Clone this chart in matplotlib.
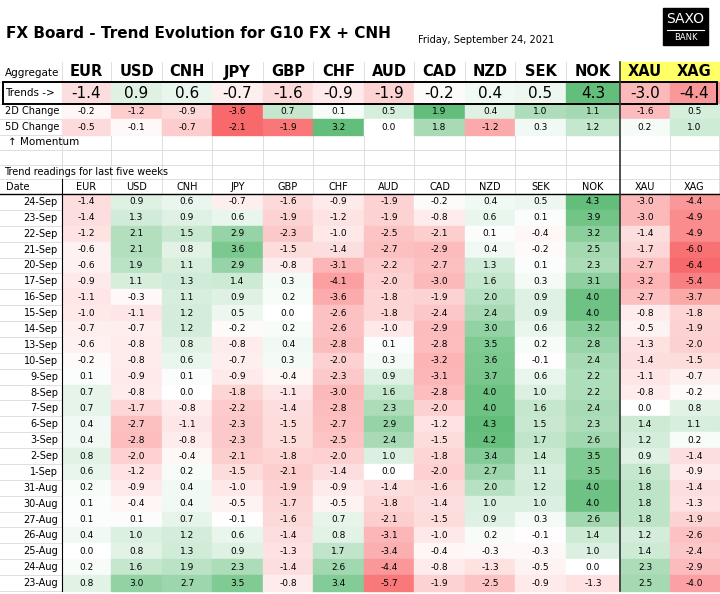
import matplotlib.pyplot as plt
from matplotlib.patches import Rectangle
import numpy as np

ccys = ['EUR', 'USD', 'CNH', 'JPY', 'GBP', 'CHF', 'AUD', 'CAD', 'NZD', 'SEK', 'NOK', 'XAU', 'XAG']
trends = [-1.4, 0.9, 0.6, -0.7, -1.6, -0.9, -1.9, -0.2, 0.4, 0.5, 4.3, -3.0, -4.4]
chg2d = [-0.2, -1.2, -0.9, -3.6, 0.7, 0.1, 0.5, 1.9, 0.4, 1.0, 1.1, -1.6, 0.5]
chg5d = [-0.5, -0.1, -0.7, -2.1, -1.9, 3.2, 0.0, 1.8, -1.2, 0.3, 1.2, 0.2, 1.0]

dates = ['24-Sep', '23-Sep', '22-Sep', '21-Sep', '20-Sep', '17-Sep', '16-Sep', '15-Sep', '14-Sep',
         '13-Sep', '10-Sep', '9-Sep', '8-Sep', '7-Sep', '6-Sep', '3-Sep', '2-Sep', '1-Sep',
         '31-Aug', '30-Aug', '27-Aug', '26-Aug', '25-Aug', '24-Aug', '23-Aug']
history = [
    [-1.4, 0.9, 0.6, -0.7, -1.6, -0.9, -1.9, -0.2, 0.4, 0.5, 4.3, -3.0, -4.4],
    [-1.4, 1.3, 0.9, 0.6, -1.9, -1.2, -1.9, -0.8, 0.6, 0.1, 3.9, -3.0, -4.9],
    [-1.2, 2.1, 1.5, 2.9, -2.3, -1.0, -2.5, -2.1, 0.1, -0.4, 3.2, -1.4, -4.9],
    [-0.6, 2.1, 0.8, 3.6, -1.5, -1.4, -2.7, -2.9, 0.4, -0.2, 2.5, -1.7, -6.0],
    [-0.6, 1.9, 1.1, 2.9, -0.8, -3.1, -2.2, -2.7, 1.3, 0.1, 2.3, -2.7, -6.4],
    [-0.9, 1.1, 1.3, 1.4, 0.3, -4.1, -2.0, -3.0, 1.6, 0.3, 3.1, -3.2, -5.4],
    [-1.1, -0.3, 1.1, 0.9, 0.2, -3.6, -1.8, -1.9, 2.0, 0.9, 4.0, -2.7, -3.7],
    [-1.0, -1.1, 1.2, 0.5, 0.0, -2.6, -1.8, -2.4, 2.4, 0.9, 4.0, -0.8, -1.8],
    [-0.7, -0.7, 1.2, -0.2, 0.2, -2.6, -1.0, -2.9, 3.0, 0.6, 3.2, -0.5, -1.9],
    [-0.6, -0.8, 0.8, -0.8, 0.4, -2.8, 0.1, -2.8, 3.5, 0.2, 2.8, -1.3, -2.0],
    [-0.2, -0.8, 0.6, -0.7, 0.3, -2.0, 0.3, -3.2, 3.6, -0.1, 2.4, -1.4, -1.5],
    [0.1, -0.9, 0.1, -0.9, -0.4, -2.3, 0.9, -3.1, 3.7, 0.6, 2.2, -1.1, -0.7],
    [0.7, -0.8, 0.0, -1.8, -1.1, -3.0, 1.6, -2.8, 4.0, 1.0, 2.2, -0.8, -0.2],
    [0.7, -1.7, -0.8, -2.2, -1.4, -2.8, 2.3, -2.0, 4.0, 1.6, 2.4, 0.0, 0.8],
    [0.4, -2.7, -1.1, -2.3, -1.5, -2.7, 2.9, -1.2, 4.3, 1.5, 2.3, 1.4, 1.1],
    [0.4, -2.8, -0.8, -2.3, -1.5, -2.5, 2.4, -1.5, 4.2, 1.7, 2.6, 1.2, 0.2],
    [0.8, -2.0, -0.4, -2.1, -1.8, -2.0, 1.0, -1.8, 3.4, 1.4, 3.5, 0.9, -1.4],
    [0.6, -1.2, 0.2, -1.5, -2.1, -1.4, 0.0, -2.0, 2.7, 1.1, 3.5, 1.6, -0.9],
    [0.2, -0.9, 0.4, -1.0, -1.9, -0.9, -1.4, -1.6, 2.0, 1.2, 4.0, 1.8, -1.4],
    [0.1, -0.4, 0.4, -0.5, -1.7, -0.5, -1.8, -1.4, 1.0, 1.0, 4.0, 1.8, -1.3],
    [0.1, 0.1, 0.7, -0.1, -1.6, 0.7, -2.1, -1.5, 0.9, 0.3, 2.6, 1.8, -1.9],
    [0.4, 1.0, 1.2, 0.6, -1.4, 0.8, -3.1, -1.0, 0.2, -0.1, 1.4, 1.2, -2.6],
    [0.0, 0.8, 1.3, 0.9, -1.3, 1.7, -3.4, -0.4, -0.3, -0.3, 1.0, 1.4, -2.4],
    [0.2, 1.6, 1.9, 2.3, -1.4, 2.6, -4.4, -0.8, -1.3, -0.5, 0.0, 2.3, -2.9],
    [0.8, 3.0, 2.7, 3.5, -0.8, 3.4, -5.7, -1.9, -2.5, -0.9, -1.3, 2.5, -4.0],
]

GREEN = np.array([99, 190, 123]) / 255
RED = np.array([248, 105, 107]) / 255
WHITE = np.array([1.0, 1.0, 1.0])


def cell_color(v, lo, hi):
    if v >= 0:
        t = v / hi if hi > 0 else 0
        return WHITE + (GREEN - WHITE) * min(t, 1)
    t = v / lo if lo < 0 else 0
    return WHITE + (RED - WHITE) * min(t, 1)


W, H = 720, 594
fig = plt.figure(figsize=(7.2, 5.94), dpi=100)
ax = fig.add_axes([0, 0, 1, 1])
ax.set_xlim(0, W)
ax.set_ylim(H, 0)
ax.axis('off')

# column geometry
edges = [62, 111, 162, 212, 263, 313, 364, 414, 465, 515, 566, 620, 670, 719]
grid_c = '#d9d9d9'

# title
ax.text(6, 33, 'FX Board - Trend Evolution for G10 FX + CNH', fontsize=11, fontweight='bold',
        va='center')
ax.text(418, 40, 'Friday, September 24, 2021', fontsize=7, va='center')
ax.add_patch(Rectangle((663, 8), 45, 37, color='black'))
ax.text(685.5, 19, 'SAXO', color='white', fontsize=10, ha='center', va='center')
ax.plot([667, 704], [30, 30], color='white', lw=0.8)
ax.text(685.5, 38, 'BANK', color='white', fontsize=6, ha='center', va='center')

# header aggregate
top_rows = [(62, 82), (82, 104), (104, 119), (119, 135), (135, 150), (150, 165), (165, 179)]
for (y0, y1) in top_rows:
    ax.plot([0, W], [y1, y1], color=grid_c, lw=0.6, zorder=0)
for x in edges:
    ax.plot([x, x], [62, 179], color=grid_c, lw=0.6, zorder=0)
for i in (11, 12):
    ax.add_patch(Rectangle((edges[i], 62), edges[i + 1] - edges[i], 20, color='#ffff66', zorder=1))
ax.text(5, 73, 'Aggregate', fontsize=7.5, va='center')
for i, c in enumerate(ccys):
    xc = (edges[i] + edges[i + 1]) / 2
    ax.text(xc, 72, c, fontsize=10.5, fontweight='bold', ha='center', va='center', zorder=3)

lo_all = min(min(r) for r in history)
hi_all = max(max(r) for r in history)
ax.text(5, 93, 'Trends ->', fontsize=7.5, va='center')
for i, v in enumerate(trends):
    ax.add_patch(Rectangle((edges[i], 82), edges[i + 1] - edges[i], 22,
                           color=cell_color(v, lo_all, hi_all), zorder=1))
    ax.text((edges[i] + edges[i + 1]) / 2, 93, f'{v:.1f}', fontsize=11, ha='center', va='center', zorder=3)
ax.add_patch(Rectangle((3, 82), 714, 22, fill=False, ec='black', lw=1.4, zorder=4))

for label, vals, (y0, y1) in [('2D Change', chg2d, top_rows[2]), ('5D Change', chg5d, top_rows[3])]:
    ax.text(5, (y0 + y1) / 2, label, fontsize=7, va='center')
    for i, v in enumerate(vals):
        ax.add_patch(Rectangle((edges[i], y0), edges[i + 1] - edges[i], y1 - y0,
                               color=cell_color(v, min(vals), max(vals)), zorder=1))
        ax.text((edges[i] + edges[i + 1]) / 2, (y0 + y1) / 2, f'{v:.1f}', fontsize=6.5,
                ha='center', va='center', zorder=3)
ax.text(8, 142, '↑ Momentum', fontsize=7.5, va='center')
ax.text(4, 172, 'Trend readings for last five weeks', fontsize=7, va='center')

# history table
y_head = 179
y_start = y_head + 15
rh = (591 - y_start) / len(dates)
ax.plot([0, W], [y_start, y_start], color='black', lw=1.0, zorder=4)
ax.text(6, 187, 'Date', fontsize=7, va='center')
for i, c in enumerate(ccys):
    ax.text((edges[i] + edges[i + 1]) / 2, 187, c, fontsize=7, ha='center', va='center')
for r, (d, row) in enumerate(zip(dates, history)):
    y0 = y_start + r * rh
    ax.text(edges[0] - 4, y0 + rh / 2, d, fontsize=7, ha='right', va='center')
    ax.plot([0, W], [y0 + rh, y0 + rh], color=grid_c, lw=0.6, zorder=0)
    for i, v in enumerate(row):
        ax.add_patch(Rectangle((edges[i], y0), edges[i + 1] - edges[i], rh,
                               color=cell_color(v, lo_all, hi_all), zorder=1))
        ax.text((edges[i] + edges[i + 1]) / 2, y0 + rh / 2, f'{v:.1f}', fontsize=6.5,
                ha='center', va='center', zorder=3)
y_end = y_start + len(dates) * rh
ax.plot([edges[0], edges[0]], [y_head, y_end], color='black', lw=0.8, zorder=4)
ax.plot([edges[11], edges[11]], [62, y_end], color='#333333', lw=1.2, zorder=4)
for x in edges[1:]:
    ax.plot([x, x], [y_head, y_start], color=grid_c, lw=0.6, zorder=0)

fig.savefig('out.png', dpi=100)
